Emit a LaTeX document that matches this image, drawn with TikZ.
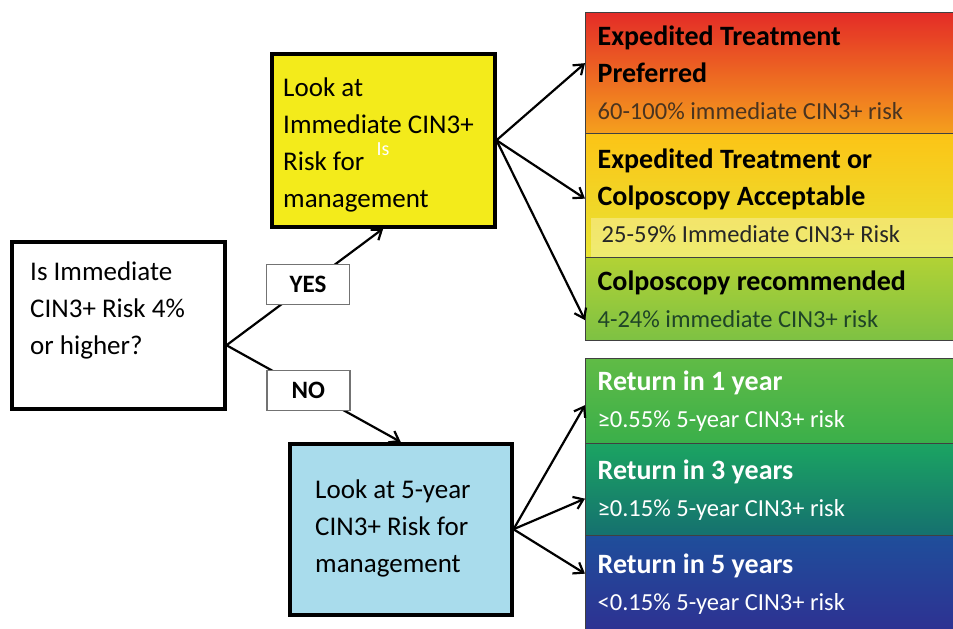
\documentclass[tikz,border=0pt]{standalone}
\usepackage{fontspec}
\setmainfont{Carlito}
\usetikzlibrary{arrows.meta, positioning}
\definecolor{lookyellow}{HTML}{F3EB1B}
\definecolor{lookblue}{HTML}{A9DCEC}
\definecolor{subbrown}{HTML}{4A3420}
\definecolor{subgreen}{HTML}{1F4527}
\newcommand{\subsize}{\fontsize{24.5}{36}\selectfont}

\begin{document}
\begin{tikzpicture}[x=1pt,y=-1pt,
  decision/.style={draw=black, line width=3.5pt, anchor=north west},
  words/.style={anchor=north west, align=left, inner sep=0pt,
    font=\fontsize{27}{37}\selectfont},
  level/.style={draw=black!75, line width=1.3pt, anchor=north west, align=flush left,
    minimum width=368pt, text width=344pt, inner xsep=12pt, inner ysep=0pt,
    font=\fontsize{28}{37}\selectfont},
  answer/.style={draw=black!55, fill=white, line width=1.4pt, minimum width=83pt,
    minimum height=40pt, font=\bfseries\fontsize{25}{28}\selectfont},
  link/.style={line width=2.2pt, -{Straight Barb[length=9pt,width=13pt]}}]
\useasboundingbox (0,0) rectangle (953,629);

\node[decision, minimum width=213pt, minimum height=167pt] (q) at (10,240) {};
\node[words] (qtext) at ([xshift=20pt,yshift=-22pt]q.north west)
  {Is Immediate\\CIN3+ Risk 4\%\\or higher?};
\node[decision, fill=lookyellow, minimum width=223pt, minimum height=173pt] (now) at (270,52) {};
\node[words] (nowtext) at ([xshift=13pt,yshift=-26pt]now.north west)
  {Look at\\Immediate CIN3+\\Risk for\\management};
\node[text=white, inner sep=0pt, font=\fontsize{20}{22}\selectfont] (is) at (383,149) {Is};
\node[decision, fill=lookblue, minimum width=222pt, minimum height=171pt] (later) at (288,442) {};
\node[words] (latertext) at ([xshift=27pt,yshift=-38pt]later.north west)
  {Look at 5-year\\CIN3+ Risk for\\management};

\node[level, minimum height=121pt, top color={rgb,255:red,228;green,44;blue,39},
  bottom color={rgb,255:red,245;green,160;blue,29}] (r1) at (585,12)
  {\textbf{Expedited Treatment\\Preferred}\\{\subsize\color{subbrown}60-100\% immediate CIN3+ risk}};
\node[level, minimum height=124pt, top color={rgb,255:red,252;green,196;blue,22},
  middle color={rgb,255:red,246;green,234;blue,24},
  bottom color={rgb,255:red,232;green,228;blue,52},
  path picture={\fill[white, fill opacity=0.3]
    ([xshift=5pt]path picture bounding box.south west) rectangle
    ([yshift=40pt]path picture bounding box.south east);}] (r2) at (585,133)
  {\textbf{Expedited Treatment or\\Colposcopy Acceptable}\\{\subsize\color{black!85}\,25-59\% Immediate CIN3+ Risk}};
\node[level, minimum height=83pt, top color={rgb,255:red,178;green,210;blue,53},
  bottom color={rgb,255:red,125;green,193;blue,67}] (r3) at (585,257)
  {\textbf{Colposcopy recommended}\\{\subsize\color{subgreen}4-24\% immediate CIN3+ risk}};

\node[level, text=white, minimum height=85pt, top color={rgb,255:red,96;green,187;blue,70},
  bottom color={rgb,255:red,58;green,175;blue,74}] (r4) at (585,358)
  {\textbf{Return in 1 year}\\{\subsize ≥0.55\% 5-year CIN3+ risk}};
\node[level, text=white, minimum height=92pt, top color={rgb,255:red,27;green,164;blue,98},
  bottom color={rgb,255:red,21;green,112;blue,111}] (r5) at (585,443)
  {\textbf{Return in 3 years}\\{\subsize ≥0.15\% 5-year CIN3+ risk}};
\node[level, text=white, minimum height=96pt, top color={rgb,255:red,31;green,78;blue,155},
  bottom color={rgb,255:red,46;green,49;blue,146}] (r6) at (585,535)
  {\textbf{Return in 5 years}\\{\subsize <0.15\% 5-year CIN3+ risk}};

\coordinate (fork) at ([yshift=-20pt]q.east);
\draw[link] (fork) -- (now.south) node[answer, pos=0.52] (yes) {YES};
\draw[link] (fork) -- (later.north) node[answer, pos=0.47] (no) {NO};

\draw[link] (now.east) -- ([yshift=10pt]r1.west);
\draw[link] (now.east) -- ([yshift=-3pt]r2.west);
\draw[link] (now.east) -- ([yshift=-21pt]r3.west);
\draw[link] (later.east) -- ([yshift=-4pt]r4.west);
\draw[link] (later.east) -- ([yshift=-9pt]r5.west);
\draw[link] (later.east) -- ([yshift=10pt]r6.west);
\end{tikzpicture}
\end{document}
